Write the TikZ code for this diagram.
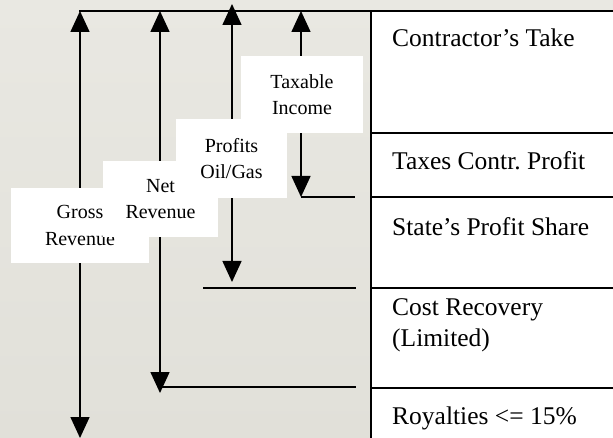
\documentclass[tikz,border=0pt]{standalone}
\usepackage{fontspec}
\setmainfont{Liberation Serif}
\usetikzlibrary{arrows.meta}
\begin{document}
\begin{tikzpicture}[x=1pt,y=-1pt,
  tri/.tip={Triangle[width=19pt,length=21pt]},
  span/.style={line width=1.5pt,tri-tri},
  rule/.style={line width=1.5pt},
  tag/.style={fill=white,align=center,inner sep=0pt,
    font=\fontsize{20}{26.5}\selectfont},
  cell/.style={anchor=base west,inner sep=0pt,
    font=\fontsize{25.5}{30}\selectfont}]
  % page and background
  \useasboundingbox (0,0) rectangle (613,438);
  \fill[top color={rgb,255:red,233;green,232;blue,226},
        bottom color={rgb,255:red,225;green,224;blue,217}] (0,0) rectangle (613,438);

  % table column on the right
  \fill[white] (371,11) rectangle (613,438);
  \coordinate (tabTL) at (371,11);
  \coordinate (tabBL) at (371,438);
  \coordinate (r1L) at (371,133); \coordinate (r1R) at (613,133);
  \coordinate (r2L) at (371,197); \coordinate (r2R) at (613,197);
  \coordinate (r3L) at (371,288); \coordinate (r3R) at (613,288);
  \coordinate (r4L) at (371,388); \coordinate (r4R) at (613,388);
  \draw[rule] (tabTL) -- (tabBL);
  \draw[rule] (r1L) -- (r1R);
  \draw[rule] (r2L) -- (r2R);
  \draw[rule] (r3L) -- (r3R);
  \draw[rule] (r4L) -- (r4R);

  \node[cell] (take)  at (392,47)  {Contractor’s Take};
  \node[cell] (tax)   at (392,170) {Taxes Contr.\ Profit};
  \node[cell] (state) at (392,236) {State’s Profit Share};
  \node[cell] (cost)  at (392,316) {Cost Recovery};
  \node[cell] (limit) at (392,346) {(Limited)};
  \node[cell] (roy)   at (392,424) {Royalties <= 15\%};

  % reference levels
  \coordinate (topL) at (79,11);   \coordinate (topR) at (613,11);
  \coordinate (lvA)  at (355,197);
  \coordinate (lvBL) at (203,288); \coordinate (lvBR) at (356,288);
  \coordinate (lvC)  at (356,387);
  \draw[rule] (topL) -- (topR);

  % spans
  \coordinate (gTop) at (80,11);  \coordinate (gBot) at (80,438);
  \coordinate (nTop) at (160,11); \coordinate (nBot) at (160,393);
  \coordinate (pTop) at (232,4);  \coordinate (pBot) at (232,282);
  \coordinate (tTop) at (301,11); \coordinate (tBot) at (301,197);
  \draw[span] (gTop) -- (gBot);
  \draw[span] (nTop) -- (nBot);
  \draw[span] (pTop) -- (pBot);
  \draw[span] (tTop) -- (tBot);
  \draw[rule] (tBot) -- (lvA);
  \draw[rule] (lvBL) -- (lvBR);
  \draw[rule] (nBot |- lvC) -- (lvC);

  % labels on the spans
  \node[tag,minimum width=138pt,minimum height=75pt] (gross) at (80,225.5) {Gross\\Revenue};
  \node[tag,minimum width=115pt,minimum height=76pt] (net) at (160.5,199) {Net\\Revenue};
  \node[tag,minimum width=111pt,minimum height=79pt] (prof) at (231.5,158.5) {Profits\\Oil/Gas};
  \node[tag,minimum width=122pt,minimum height=77pt] (taxable) at (302,94.5) {Taxable\\Income};
\end{tikzpicture}
\end{document}
